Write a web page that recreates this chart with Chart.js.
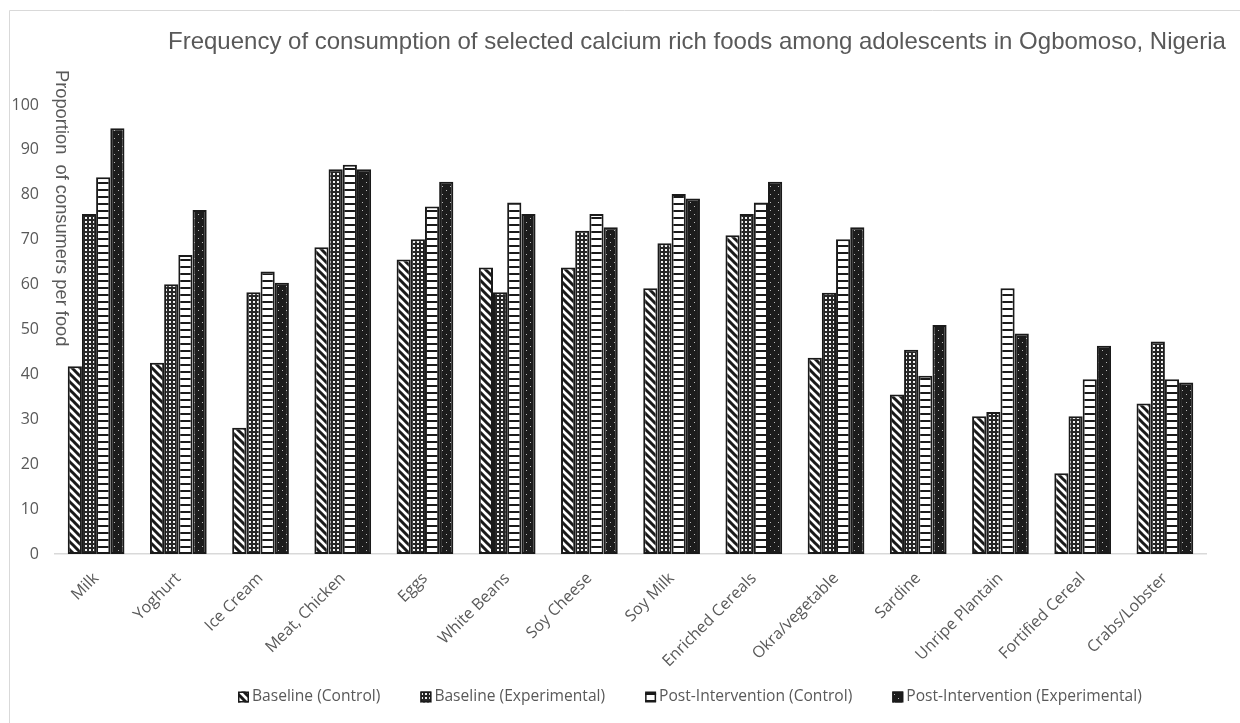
<!DOCTYPE html>
<html>
<head>
<meta charset="utf-8">
<script src="https://cdn.jsdelivr.net/npm/chart.js@4.4.1/dist/chart.umd.min.js"></script>
<style>
  html, body { margin: 0; padding: 0; background: #fff; }
  #wrap { width: 1240px; height: 723px; position: relative; }
</style>
</head>
<body>
<div id="wrap"><canvas id="chart" width="1240" height="723"></canvas></div>
<script>
// Foods surveyed
const foods = ['Milk', 'Yoghurt', 'Ice Cream', 'Meat, Chicken', 'Eggs', 'White Beans', 'Soy Cheese',
  'Soy Milk', 'Enriched Cereals', 'Okra/vegetable', 'Sardine', 'Unripe Plantain', 'Fortified Cereal', 'Crabs/Lobster'];

// Proportion of consumers per food (%)
const baselineControl      = [41.8, 42.6, 28.1, 68.3, 65.6, 63.8, 63.8, 59.2, 71.0, 43.7, 35.5, 30.7, 18.0, 33.5];
const baselineExperimental = [75.7, 60.1, 58.3, 85.7, 70.1, 58.3, 72.0, 69.2, 75.7, 58.2, 45.5, 31.6, 30.7, 47.3];
const postControl          = [83.9, 66.6, 62.9, 86.7, 77.4, 78.3, 75.7, 80.2, 78.3, 70.1, 39.7, 59.2, 38.9, 38.9];
const postExperimental     = [94.8, 76.6, 60.4, 85.7, 82.9, 75.7, 72.8, 79.2, 82.9, 72.8, 51.0, 49.1, 46.4, 38.2];

const seriesNames = ['Baseline (Control)', 'Baseline (Experimental)', 'Post-Intervention (Control)', 'Post-Intervention (Experimental)'];
const yMin = 0, yMax = 100, yStep = 10;

const chartTitle = 'Frequency of consumption of selected calcium rich foods among adolescents in Ogbomoso, Nigeria';
const yTitle = 'Proportion  of consumers per food';

const INK = '#1a1a1a';
const TEXT = '#595959';

// Monochrome fill patterns, one per series
function makePattern(kind) {
  const t = document.createElement('canvas');
  let g;
  if (kind === 'diag') {
    t.width = 8; t.height = 8; g = t.getContext('2d');
    g.fillStyle = '#fff'; g.fillRect(0, 0, 8, 8);
    g.strokeStyle = INK; g.lineWidth = 3; g.lineCap = 'square';
    g.beginPath();
    for (const x0 of [-8, 0, 8]) { g.moveTo(x0, 0); g.lineTo(x0 + 8, 8); }
    g.stroke();
  } else if (kind === 'grid') {
    t.width = 4; t.height = 4; g = t.getContext('2d');
    g.fillStyle = '#262626'; g.fillRect(0, 0, 4, 4);
    g.fillStyle = '#f2f2f2'; g.fillRect(1, 1, 2, 2);
  } else if (kind === 'hlines') {
    t.width = 8; t.height = 7; g = t.getContext('2d');
    g.fillStyle = '#fff'; g.fillRect(0, 0, 8, 7);
    g.fillStyle = INK; g.fillRect(0, 0, 8, 2);
  } else {
    t.width = 8; t.height = 8; g = t.getContext('2d');
    g.fillStyle = '#1c1c1c'; g.fillRect(0, 0, 8, 8);
    g.fillStyle = '#b8b8b8'; g.fillRect(2, 2, 1, 1); g.fillRect(6, 6, 1, 1);
  }
  return g.createPattern(t, 'repeat');
}

const ctx = document.getElementById('chart').getContext('2d');
const fills = [makePattern('diag'), makePattern('grid'), makePattern('hlines'), makePattern('dots')];
const seriesValues = [baselineControl, baselineExperimental, postControl, postExperimental];

// Frame, title, vertical axis title and legend
const decor = {
  id: 'decor',
  beforeDraw(chart) {
    const c = chart.ctx;
    c.save();
    c.strokeStyle = '#d9d9d9'; c.lineWidth = 1;
    c.beginPath();
    c.moveTo(9.5, 723); c.lineTo(9.5, 10.5); c.lineTo(1240, 10.5);
    c.stroke();
    c.restore();
  },
  afterDraw(chart) {
    const c = chart.ctx;
    c.save();
    c.fillStyle = TEXT;
    c.font = '24px "Liberation Sans", Arial, sans-serif';
    c.textAlign = 'left'; c.textBaseline = 'middle';
    c.fillText(chartTitle, 168, 42);

    c.save();
    c.translate(61, 70);
    c.rotate(Math.PI / 2);
    c.font = '18.3px "Liberation Sans", Arial, sans-serif';
    c.textAlign = 'left'; c.textBaseline = 'middle';
    c.fillText(yTitle, 0, 0);
    c.restore();

    c.font = '15.6px "Open Sans", sans-serif';
    c.textBaseline = 'middle';
    let x = 238;
    const yc = 697;
    seriesNames.forEach((name, i) => {
      c.fillStyle = fills[i];
      c.fillRect(x, yc - 5.5, 11, 11);
      c.strokeStyle = INK; c.lineWidth = 1.5;
      c.strokeRect(x + 0.75, yc - 4.75, 9.5, 9.5);
      c.fillStyle = TEXT;
      c.fillText(name, x + 14, yc);
      x += 14 + c.measureText(name).width + 40;
    });
    c.restore();
  }
};

new Chart(ctx, {
  type: 'bar',
  data: {
    labels: foods,
    datasets: seriesNames.map((name, i) => ({
      label: name,
      data: seriesValues[i],
      backgroundColor: fills[i],
      borderColor: INK,
      borderWidth: 2,
      borderSkipped: false,
      categoryPercentage: 0.69,
      barPercentage: 1.0
    }))
  },
  options: {
    responsive: false,
    animation: false,
    layout: { padding: { top: 105, right: 34, bottom: 0, left: 0 } },
    plugins: {
      legend: { display: false },
      title: { display: false },
      tooltip: { enabled: false }
    },
    scales: {
      x: {
        grid: { display: false },
        border: { display: true, color: '#d9d9d9', width: 1.5 },
        ticks: {
          color: TEXT,
          font: { family: '"Open Sans", sans-serif', size: 16 },
          minRotation: 45, maxRotation: 45,
          autoSkip: false,
          padding: 7
        },
        afterFit(s) { s.height = 169; }
      },
      y: {
        min: yMin, max: yMax,
        grid: { display: false },
        border: { display: false },
        ticks: {
          stepSize: yStep,
          color: TEXT,
          font: { family: '"Open Sans", sans-serif', size: 16 },
          padding: 8
        },
        afterFit(s) { s.width = 55; }
      }
    }
  },
  plugins: [decor]
});
</script>
</body>
</html>
